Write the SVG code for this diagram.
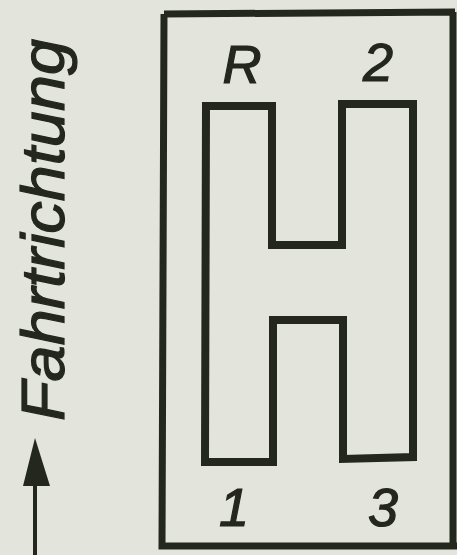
<svg xmlns="http://www.w3.org/2000/svg" width="457" height="555" viewBox="0 0 457 555">
<style>
.ln{fill:none;stroke:#23271d;stroke-linejoin:miter}
.lbl{font-family:"Liberation Sans",Arial,sans-serif;font-style:italic;fill:#23271d;stroke:#23271d;stroke-width:1.2}
</style>
<rect width="457" height="555" fill="#e3e5dc"/>
<g id="frame">
<path class="ln" stroke-width="7" d="M164,14 L455,12 M164,14 L162,546 L457,546 M453,12 L453,546"/>
</g>
<g id="gate">
<path class="ln" stroke-width="8" d="M206,106 L272,106 L272,245 L342,245 L342,104 L413,104 L413,457 L343,459 L343,320 L273,320 L273,462 L205,462 Z"/>
</g>
<g id="labels">
<text class="lbl" x="242" y="83" font-size="54" text-anchor="middle">R</text>
<text class="lbl" x="378" y="81" font-size="54" text-anchor="middle">2</text>
<text class="lbl" x="234" y="526" font-size="54" text-anchor="middle">1</text>
<text class="lbl" x="383" y="526" font-size="54" text-anchor="middle">3</text>
</g>
<g id="direction">
<text class="lbl" transform="translate(64,421) rotate(-90)" font-size="61" textLength="382" lengthAdjust="spacingAndGlyphs">Fahrtrichtung</text>
</g>
<g id="connectors">
<line x1="35" y1="478" x2="35" y2="555" stroke="#23271d" stroke-width="4"/>
<polygon points="35,438 50,486 23,486" fill="#23271d"/>
</g>
</svg>
